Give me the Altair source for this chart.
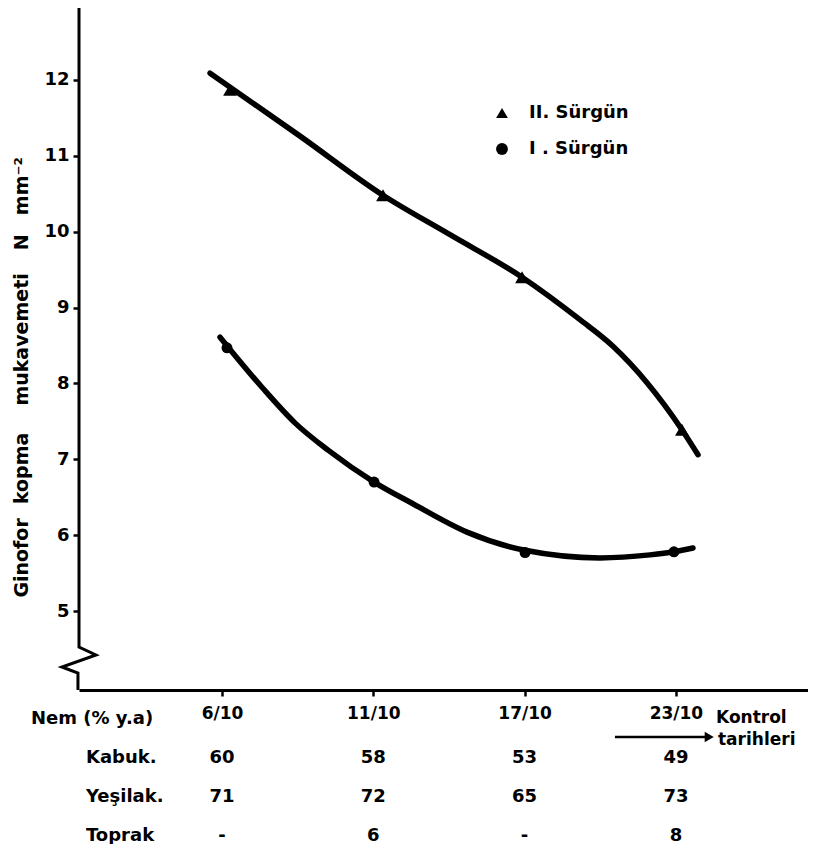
import altair as alt
import pandas as pd

FONT = "DejaVu Sans"

# ---------------- data ----------------
dates = ["6/10", "11/10", "17/10", "23/10"]
series = ["II. Sürgün", "I . Sürgün"]

# measured points (date position as drawn, N mm-2)
s2_x = [0.053, 1.064, 1.983, 3.040]
s2_y = [11.87, 10.48, 9.40, 7.39]
s1_x = [0.033, 1.005, 2.003, 2.987]
s1_y = [8.47, 6.70, 5.77, 5.78]

# fitted curves
c2_x = [-0.079, 0.516, 1.064, 1.507, 1.983, 2.366, 2.584, 2.809, 3.040, 3.146]
c2_y = [12.09, 11.26, 10.48, 9.96, 9.40, 8.84, 8.49, 8.01, 7.39, 7.06]
c1_x = [-0.013, 0.264, 0.482, 0.701, 1.005, 1.256, 1.619, 2.003, 2.498, 2.829, 2.987, 3.113]
c1_y = [8.61, 7.95, 7.48, 7.12, 6.70, 6.42, 6.04, 5.80, 5.70, 5.74, 5.78, 5.83]

# moisture table
rows = ["Nem (% y.a)", "Kabuk.", "Yeşilak.", "Toprak"]
kabuk = ["60", "58", "53", "49"]
yesilak = ["71", "72", "65", "73"]
toprak = ["-", "6", "-", "8"]

y_ticks = [5, 6, 7, 8, 9, 10, 11, 12]

title_words = ["Ginofor", "kopma", "mukavemeti", "N", "mm⁻²"]
title_y = [5.70, 6.88, 8.58, 9.86, 10.60]

# ---------------- layout helpers (scale domains) ----------------
X_DOM = [-0.9451, 3.873]
Y_DOM = [3.9586, 12.949]
W, H = 729, 682

xs = alt.Scale(domain=X_DOM, nice=False, zero=False)
ys = alt.Scale(domain=Y_DOM, nice=False, zero=False)

# axis break decoration (y axis line with zigzag), in data units
axis_x = [-0.945, -0.945, -0.833, -1.058, -0.952, -0.952]
axis_y = [12.949, 4.525, 4.420, 4.262, 4.183, 3.9586]

arrow_x = [2.597, 3.20]
arrow_y = [3.339, 3.339]

# ---------------- frames ----------------
curves = pd.DataFrame(
    [{"series": series[0], "x": x, "y": y, "o": i} for i, (x, y) in enumerate(zip(c2_x, c2_y))]
    + [{"series": series[1], "x": x, "y": y, "o": i} for i, (x, y) in enumerate(zip(c1_x, c1_y))]
)
tri_df = pd.DataFrame({"series": series[0], "x": s2_x, "y": s2_y})
cir_df = pd.DataFrame({"series": series[1], "x": s1_x, "y": s1_y})
axis_df = pd.DataFrame({"x": axis_x, "y": axis_y, "o": list(range(len(axis_x)))})
arrow_df = pd.DataFrame({"x": arrow_x, "y": arrow_y})
head_df = pd.DataFrame({"x": [arrow_x[1] + 0.02], "y": [arrow_y[1]]})
title_df = pd.DataFrame({"t": title_words, "x": [-1.322] * len(title_words), "y": title_y})
kontrol_df = pd.DataFrame({"t": ["Kontrol", "tarihleri"], "x": [3.265, 3.278], "y": [3.589, 3.30]})

label_x = [-1.262, -0.899, -0.899, -0.899]
label_df = pd.DataFrame({"row": rows, "x": label_x, "t": rows})
cells = []
for vals, r in zip([kabuk, yesilak, toprak], rows[1:]):
    for i, v in enumerate(vals):
        cells.append({"row": r, "x": i, "t": v})
value_df = pd.DataFrame(cells)

# ---------------- layers ----------------
base_x = alt.X("x:Q", scale=xs, axis=alt.Axis(
    values=[0, 1, 2, 3],
    labelExpr="[" + ",".join('"%s"' % d for d in dates) + "][datum.value]",
    title=None, grid=False, domainColor="black", domainWidth=3,
    tickColor="black", tickWidth=2.5, tickSize=6,
    labelFont=FONT, labelFontSize=17, labelFontWeight="bold", labelColor="black",
    labelPadding=9))
base_y = alt.Y("y:Q", scale=ys, axis=alt.Axis(
    values=y_ticks, format="d", title=None, grid=False, domain=False,
    tickColor="black", tickWidth=2.5, tickSize=6,
    labelFont=FONT, labelFontSize=18, labelFontWeight="bold", labelColor="black",
    labelPadding=4))

lines = alt.Chart(curves).mark_line(color="black", strokeWidth=5.5, interpolate="monotone",
                                    strokeCap="round", clip=False).encode(
    x=base_x, y=base_y, detail="series:N", order="o:Q")

shape_enc = alt.Shape("series:N", scale=alt.Scale(domain=series, range=["triangle-up", "circle"]),
                      legend=alt.Legend(title=None, orient="none", legendX=414, legendY=96,
                                        symbolSize=140, symbolFillColor="black",
                                        symbolStrokeColor="black", symbolStrokeWidth=0,
                                        labelFont=FONT, labelFontSize=18, labelFontWeight="bold",
                                        labelColor="black", labelOffset=18, rowPadding=18,
                                        padding=0))

tris = alt.Chart(tri_df).mark_point(filled=True, opacity=1, color="black", size=190,
                                    clip=False).encode(
    x=alt.X("x:Q", scale=xs), y=alt.Y("y:Q", scale=ys), shape=shape_enc)
circs = alt.Chart(cir_df).mark_point(filled=True, opacity=1, color="black", size=120,
                                     clip=False).encode(
    x=alt.X("x:Q", scale=xs), y=alt.Y("y:Q", scale=ys), shape=shape_enc)

yaxis_line = alt.Chart(axis_df).mark_line(color="black", strokeWidth=3, clip=False,
                                          strokeJoin="miter").encode(
    x=alt.X("x:Q", scale=xs), y=alt.Y("y:Q", scale=ys), order="o:Q")

title = alt.Chart(title_df).mark_text(angle=270, font=FONT, fontSize=19, fontWeight="bold",
                                      color="black", align="center", baseline="middle",
                                      clip=False).encode(
    x=alt.X("x:Q", scale=xs), y=alt.Y("y:Q", scale=ys), text="t:N")

kontrol = alt.Chart(kontrol_df).mark_text(font=FONT, fontSize=17, fontWeight="bold",
                                          color="black", align="left", baseline="middle",
                                          clip=False).encode(
    x=alt.X("x:Q", scale=xs), y=alt.Y("y:Q", scale=ys), text="t:N")

arrow = alt.Chart(arrow_df).mark_line(color="black", strokeWidth=2.5, clip=False).encode(
    x=alt.X("x:Q", scale=xs), y=alt.Y("y:Q", scale=ys))
head = alt.Chart(head_df).mark_point(shape="triangle-right", filled=True, opacity=1,
                                     color="black", size=110, clip=False).encode(
    x=alt.X("x:Q", scale=xs), y=alt.Y("y:Q", scale=ys))

row_scale = alt.Scale(domain=rows, range=[711, 828], padding=0)
labels = alt.Chart(label_df).mark_text(font=FONT, fontSize=18, fontWeight="bold",
                                       color="black", baseline="middle", align="left",
                                       clip=False).encode(
    x=alt.X("x:Q", scale=xs),
    y=alt.Y("row:N", scale=row_scale, axis=None),
    text="t:N")
values = alt.Chart(value_df).mark_text(font=FONT, fontSize=18, fontWeight="bold",
                                       color="black", baseline="middle", align="center",
                                       clip=False).encode(
    x=alt.X("x:Q", scale=xs),
    y=alt.Y("row:N", scale=row_scale, axis=None),
    text="t:N")

main = alt.layer(lines, tris, circs, yaxis_line, title, kontrol, arrow, head)
table = alt.layer(labels, values)
chart = alt.layer(main, table).resolve_scale(y="independent").properties(
    width=W, height=H,
    autosize=alt.AutoSizeParams(type="none"),
    padding={"left": 71, "top": 0, "right": 0, "bottom": 154},
    background="white",
).configure_view(stroke=None)

chart.save("out.html", embed_options={"renderer": "svg", "actions": False})
